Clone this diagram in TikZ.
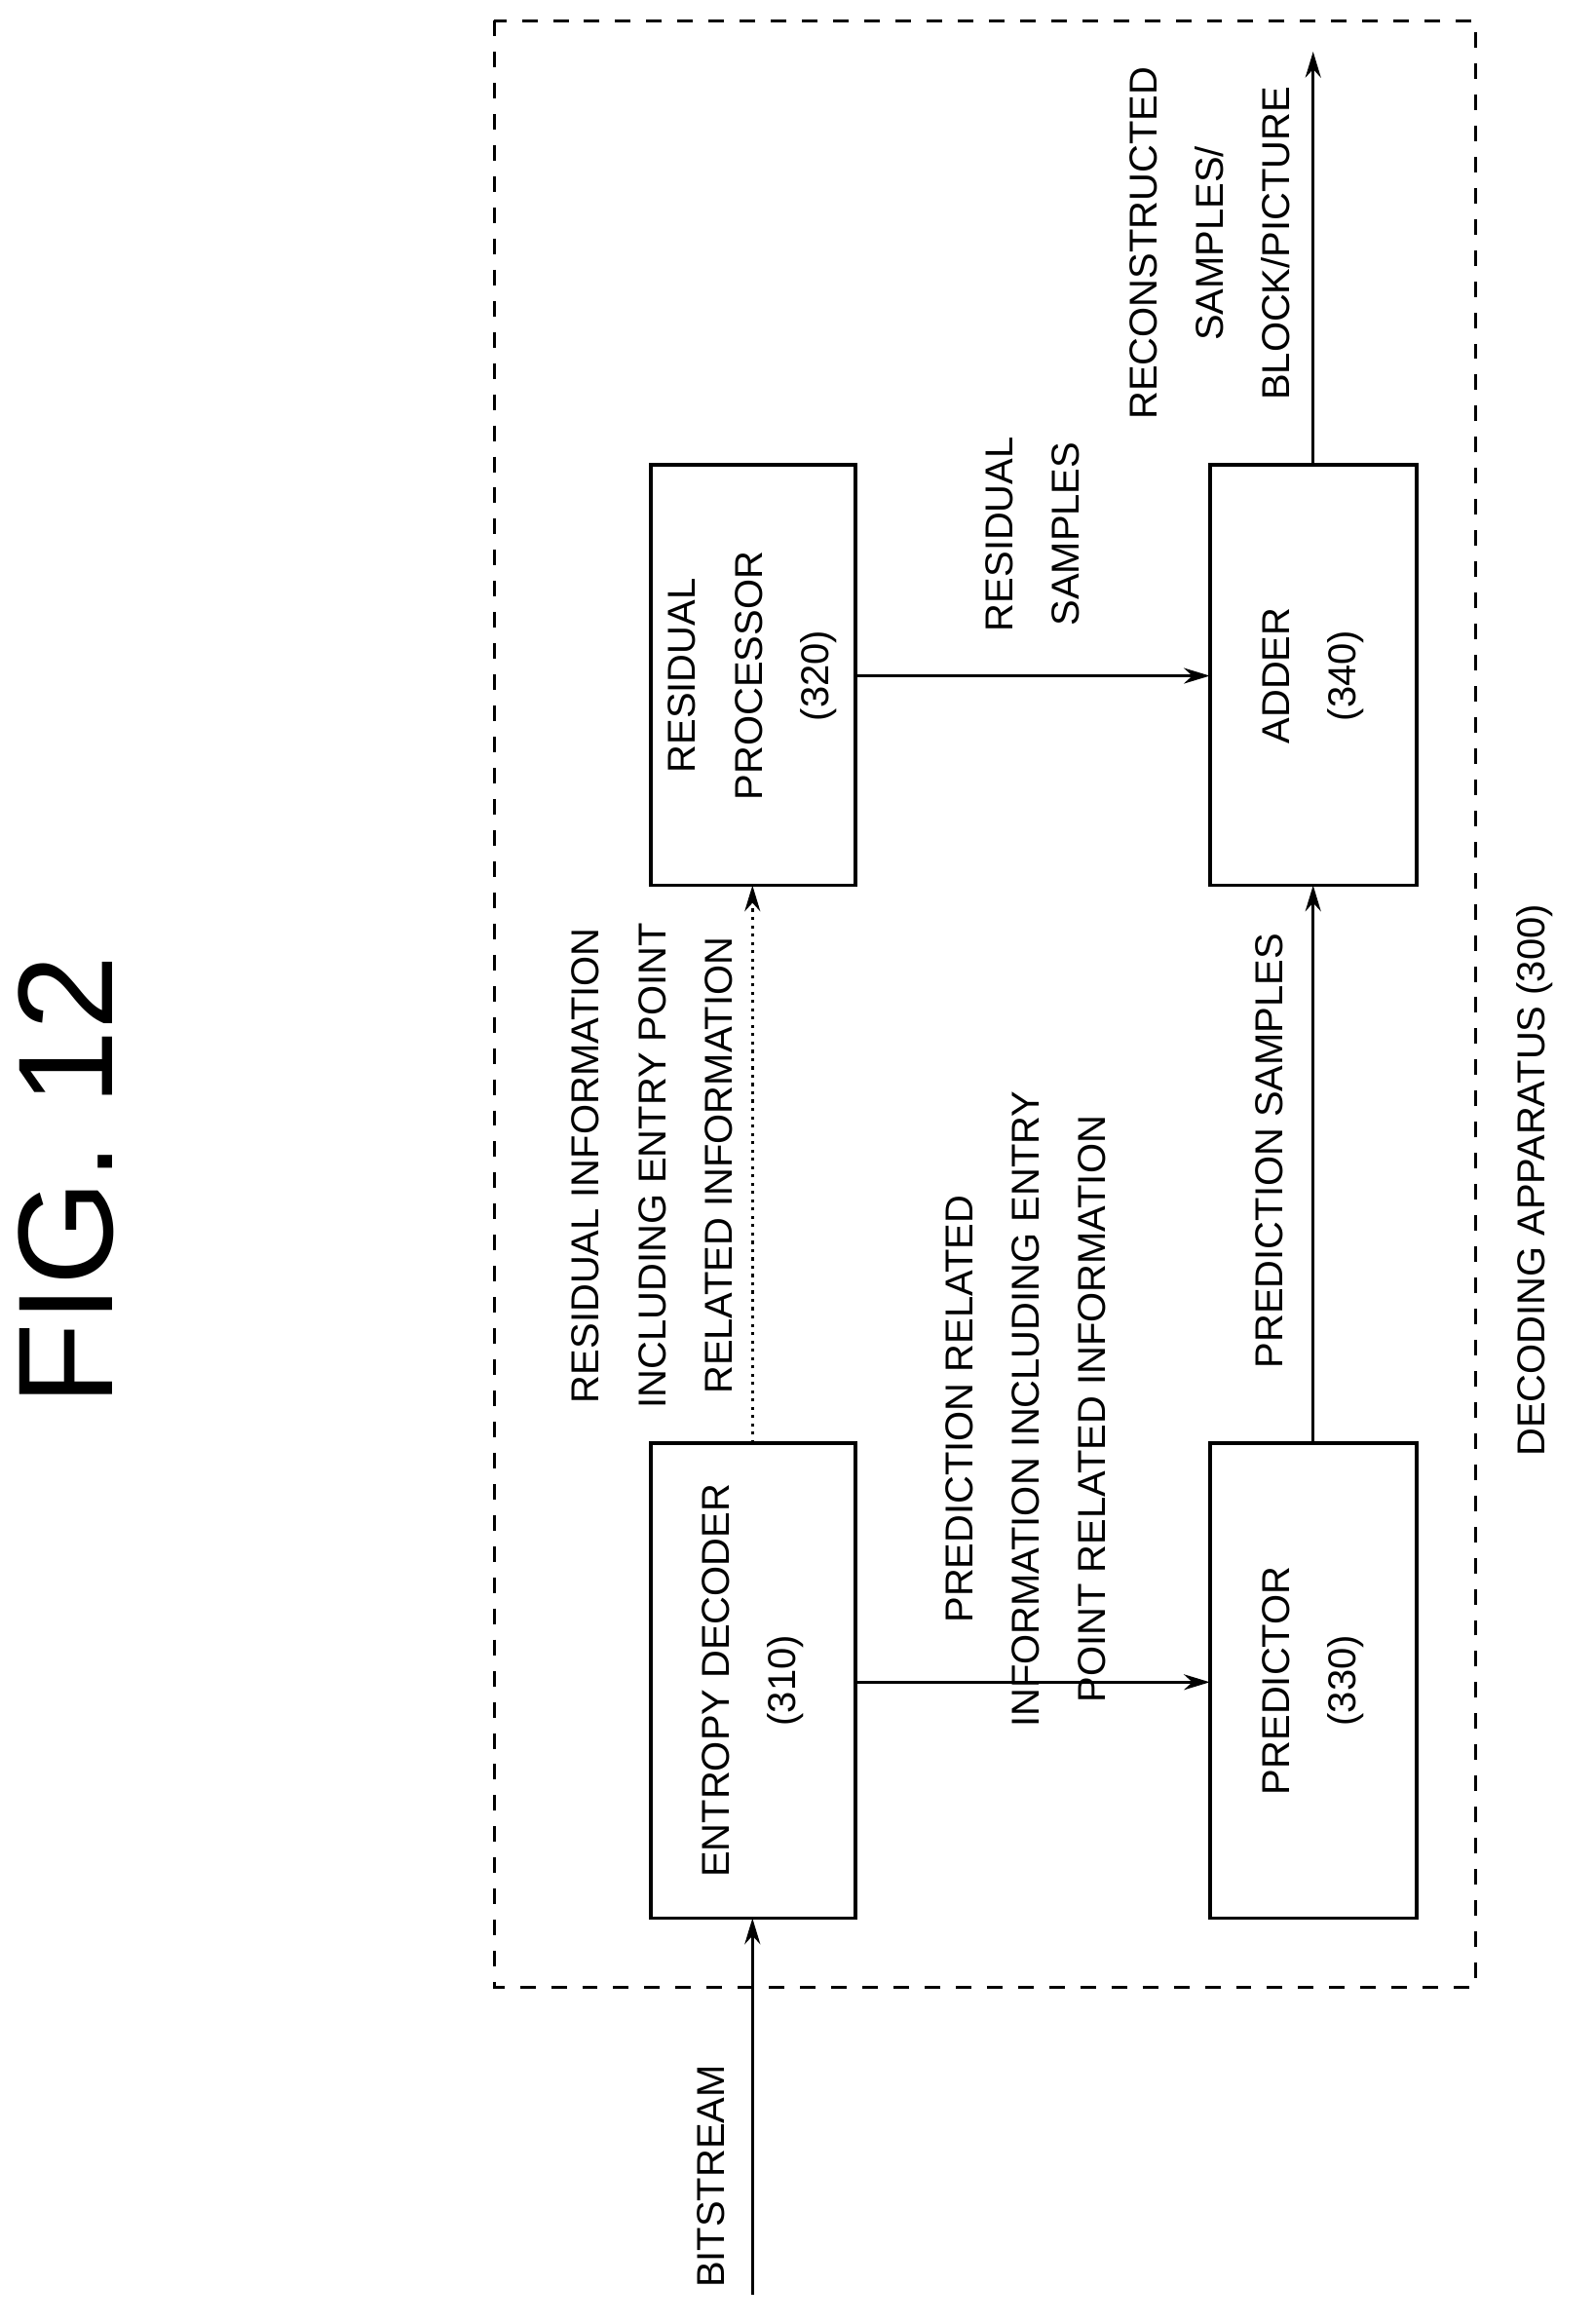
\documentclass[tikz,border=0pt]{standalone}
\usepackage{fontspec}
\setmainfont{Liberation Sans}
\usetikzlibrary{positioning,arrows.meta}
\tikzset{
  blk/.style={draw, line width=0.7pt},
  lbl/.style={rotate=90, align=center, font=\fontsize{7.5}{12.8}\selectfont},
  flow/.style={-{Stealth[length=5pt,width=3pt]}, line width=0.6pt}
}
\begin{document}
\begin{tikzpicture}[x=0.01cm, y=-0.01cm]
  \useasboundingbox (0,0) rectangle (1080,1575);
  % frame and title
  \node[rotate=90, font=\fontsize{26}{30}\selectfont] (fig) at (45,800) {FIG. 12};
  \draw[dashed, line width=0.5pt] (335,14) rectangle (1000,1347);
  \node[lbl] (app) at (1040,800) {DECODING APPARATUS (300)};
  % blocks
  \draw[blk] (441,978) rectangle (580,1300);
  \node[lbl] (ent) at (510,1139) {ENTROPY DECODER\\(310)};
  \draw[blk] (441,315) rectangle (580,600);
  \node[lbl] (res) at (510,458) {RESIDUAL\\PROCESSOR\\(320)};
  \draw[blk] (820,978) rectangle (960,1300);
  \node[lbl] (pred) at (890,1139) {PREDICTOR\\(330)};
  \draw[blk] (820,315) rectangle (960,600);
  \node[lbl] (add) at (890,458) {ADDER\\(340)};
  \coordinate (entT) at (510,978);
  \coordinate (entB) at (510,1300);
  \coordinate (entR) at (580,1140);
  \coordinate (resB) at (510,600);
  \coordinate (resR) at (580,458);
  \coordinate (predL) at (820,1140);
  \coordinate (predT) at (890,978);
  \coordinate (addB) at (890,600);
  \coordinate (addL) at (820,458);
  \coordinate (addT) at (890,315);
  \coordinate (bsin) at (510,1555);
  \coordinate (out) at (890,35);
  % connectors
  \draw[flow] (bsin) -- (entB);
  \draw[flow, densely dotted] (entT) -- (resB);
  \draw[flow] (entR) -- (predL);
  \draw[flow] (predT) -- (addB);
  \draw[flow] (resR) -- (addL);
  \draw[flow] (addT) -- (out);
  % labels
  \node[lbl] (bs) at (482,1475) {BITSTREAM};
  \node[lbl] (l1) at (442,790) {RESIDUAL INFORMATION\\INCLUDING ENTRY POINT\\RELATED INFORMATION};
  \node[lbl] (l2) at (695,955) {PREDICTION RELATED\\INFORMATION INCLUDING ENTRY\\POINT RELATED INFORMATION};
  \node[lbl] (l3) at (860,780) {PREDICTION SAMPLES};
  \node[lbl] (l4) at (700,362) {RESIDUAL\\SAMPLES};
  \node[lbl] (l5) at (820,165) {RECONSTRUCTED\\SAMPLES/\\BLOCK/PICTURE};
\end{tikzpicture}
\end{document}
